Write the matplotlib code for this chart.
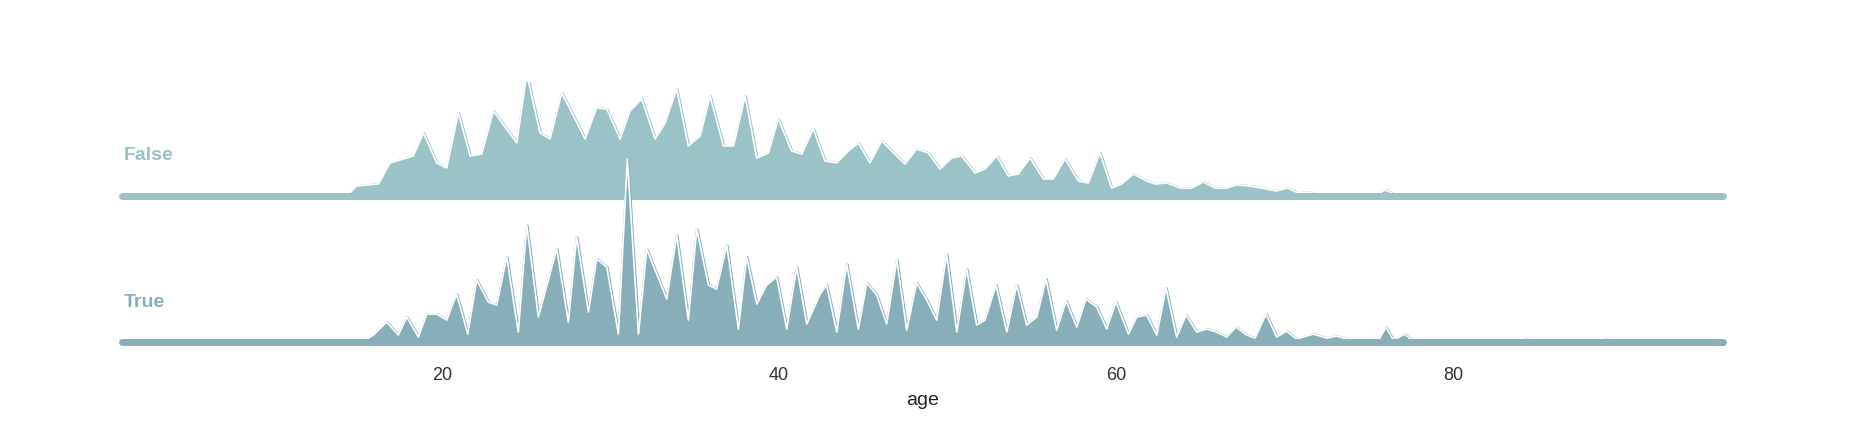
import matplotlib.pyplot as plt

plt.rcParams['font.family'] = ['Liberation Sans', 'DejaVu Sans']

labels = ["False", "True"]
colors = ["#9bc2c7", "#88afb9"]

# ages and density heights (arbitrary units)
false_age = [1, 14.35, 14.94, 16.23, 16.92, 18.3, 18.9, 19.69, 20.28, 20.97, 21.67, 22.36, 23.05,
             24.44, 25.03, 25.82, 26.41, 27.11, 28.49, 29.18, 29.78, 30.57, 31.16, 31.85, 32.65,
             33.24, 33.93, 34.62, 35.32, 35.91, 36.7, 37.3, 37.99, 38.68, 39.37, 39.96, 40.75,
             41.35, 42.04, 42.73, 43.42, 44.12, 44.71, 45.4, 46.09, 47.48, 48.17, 48.86, 49.56,
             50.25, 50.84, 51.63, 52.23, 52.92, 53.61, 54.2, 54.9, 55.69, 56.28, 56.97, 57.77,
             58.36, 59.05, 59.74, 60.34, 61.03, 61.82, 62.32, 63.01, 63.8, 64.49, 65.18, 65.88,
             66.57, 67.16, 67.95, 68.6, 69.5, 70.2, 70.8, 71.5, 72.0, 75.5, 76.0, 76.6, 77.0, 96]
false_h = [0, 0, 10, 12, 33, 40, 63, 33, 28, 83, 40, 42, 85,
           53, 122, 63, 57, 103, 57, 88, 87, 57, 85, 97, 57,
           73, 107, 50, 60, 100, 50, 50, 100, 38, 43, 77, 45,
           42, 67, 35, 33, 45, 53, 33, 55, 32, 47, 43, 27,
           38, 40, 23, 27, 40, 20, 22, 38, 17, 17, 37, 15,
           13, 43, 8, 12, 22, 15, 12, 13, 8, 8, 14, 8,
           8, 11, 10, 8, 5, 8, 3, 4, 1, 2, 6, 1, 0, 0]

true_age = [1, 15.24, 15.93, 16.72, 17.41, 17.91, 18.6, 19.1, 19.69, 20.28, 20.87, 21.53, 22.06,
            22.75, 23.25, 23.84, 24.53, 25.03, 25.72, 26.81, 27.5, 27.99, 28.69, 29.18, 29.78,
            30.47, 31.0, 31.66, 32.15, 33.34, 33.93, 34.62, 35.12, 35.81, 36.3, 36.9, 37.59,
            38.08, 38.68, 39.27, 39.86, 40.46, 41.05, 41.65, 42.44, 42.83, 43.43, 44.02, 44.71,
            45.21, 45.8, 46.39, 46.99, 47.58, 48.17, 48.77, 49.36, 49.95, 50.55, 51.14, 51.73,
            52.23, 52.88, 53.52, 54.11, 54.7, 55.3, 55.85, 56.48, 57.04, 57.67, 58.22, 58.86,
            59.45, 60.0, 60.74, 61.23, 61.82, 62.42, 62.97, 63.6, 64.16, 64.79, 65.38, 65.98,
            66.57, 67.13, 67.76, 68.25, 68.91, 69.54, 70.13, 70.72, 71.71, 72.5, 73.1, 73.9,
            74.9, 75.6, 76.02, 76.46, 77.15, 77.6, 81.4, 81.9, 82.4, 82.7, 83.2, 83.7, 83.8,
            84.3, 84.8, 88.5, 89.0, 89.5, 96]
true_h = [0, 0, 7, 20, 7, 25, 5, 28, 28, 22, 48, 8, 62,
          40, 37, 85, 10, 117, 25, 93, 20, 105, 30, 83, 75,
          8, 183, 8, 93, 43, 107, 22, 113, 57, 53, 97, 13,
          85, 38, 57, 65, 13, 75, 18, 48, 57, 10, 78, 13,
          59, 47, 18, 82, 12, 59, 42, 22, 88, 10, 73, 17,
          22, 57, 10, 57, 17, 25, 63, 12, 41, 15, 43, 35,
          13, 40, 8, 25, 27, 7, 54, 5, 27, 10, 13, 10,
          5, 15, 7, 4, 28, 5, 11, 3, 8, 4, 6, 2,
          2, 2, 15, 2, 8, 1, 0, 2, 0, 0, 2, 0, 0,
          3, 0, 0, 3, 0, 0]

offsets = [146, 0]
series = [(false_age, false_h), (true_age, true_h)]

fig = plt.figure(figsize=(18.55, 4.29), dpi=100)
ax = fig.add_axes([0.0566, 0.191, 0.8811, 0.618])

for i, ((ages, h), lab, col, off) in enumerate(zip(series, labels, colors, offsets)):
    z = 2 + i * 3
    base = [off] * len(ages)
    top = [off + v for v in h]
    ax.fill_between(ages, base, top, color=col, lw=2, edgecolor=col, zorder=z)
    ax.plot(ages, top, color="white", lw=1.2, zorder=z + 0.5)
    ax.plot([ages[0], ages[-1]], [off, off], color=col, lw=5,
            solid_capstyle="round", zorder=z + 1)
    ax.text(1.1, off + 40, lab, color=col, fontweight="bold", fontsize=14,
            ha="left", va="center", zorder=10)

ax.set_xlim(0, 97)
ax.set_ylim(-5, 260)
ax.set_yticks([])
ax.set_xticks([20, 40, 60, 80])
ax.tick_params(axis="x", length=0, labelsize=13, labelcolor="#333333", pad=14)
ax.set_xlabel("age", fontsize=14, color="#222222", labelpad=6)
for s in ax.spines.values():
    s.set_visible(False)

fig.savefig("out.png", dpi=100)
